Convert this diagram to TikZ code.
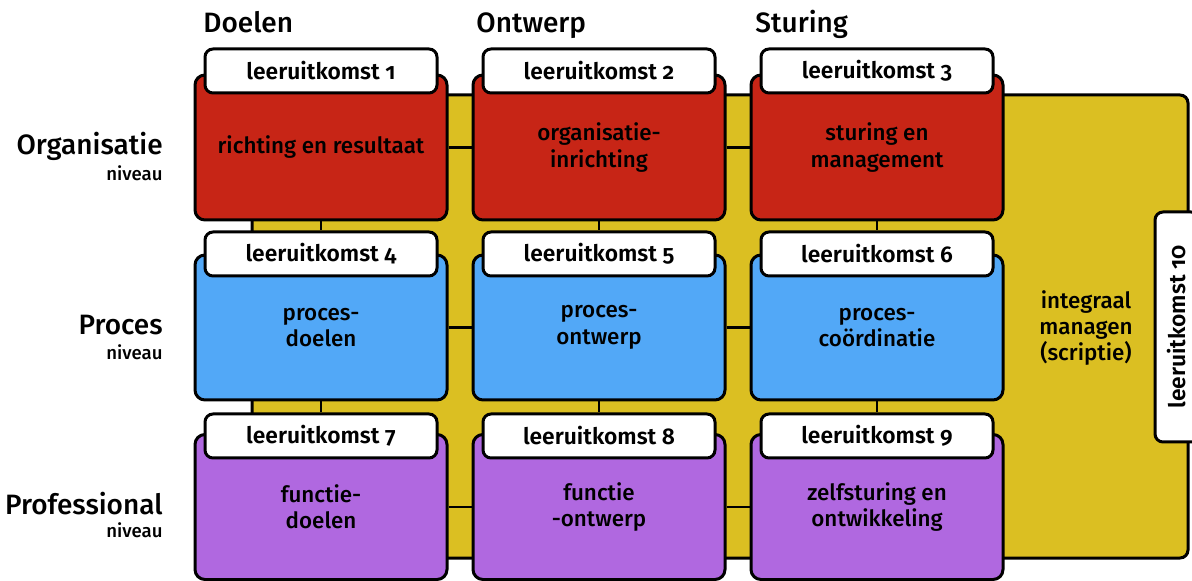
\documentclass[tikz,border=0pt]{standalone}
\usepackage{fontspec}
\setmainfont{Fira Sans}[Numbers=OldStyle, UprightFont=* Medium, BoldFont=* SemiBold]
\usepackage{xcolor}
\usetikzlibrary{positioning}
\definecolor{orgred}{HTML}{C72516}
\definecolor{procblue}{HTML}{52A8F7}
\definecolor{profpurple}{HTML}{B068E0}
\definecolor{panelyellow}{HTML}{DBBF22}

\tikzset{
    outcome/.style={draw=black, line width=1.5pt, rounded corners=5pt, minimum width=126pt, minimum height=72.5pt, align=center, font=\fontsize{11.2}{13.2}\selectfont},
    tabbox/.style={draw=black, fill=white, line width=1.5pt, rounded corners=4pt, minimum width=116pt, minimum height=22pt, font=\bfseries\fontsize{11.4}{13}\selectfont},
    header/.style={inner sep=0pt, font=\fontsize{14}{17}\selectfont},
    level/.style={inner sep=0pt, font=\fontsize{9.3}{11}\selectfont},
    connector/.style={line width=1.3pt},
}

\begin{document}
\begin{tikzpicture}[x=0.5pt, y=-0.5pt]
    \useasboundingbox (0,0) rectangle (1192,581);

    % Yellow panel behind the grid
    \filldraw[fill=panelyellow, draw=black, line width=1.5pt, rounded corners=4pt] (252,95) rectangle (1188,558);
    \node[align=center, font=\fontsize{11.2}{13.2}\selectfont] (integraal) at (1086,328) {integraal\\managen\\(scriptie)};

    % Column headers
    \foreach \i/\x/\name in {1/203/Doelen, 2/476/Ontwerp, 3/755/Sturing}
        \node[header, anchor=base west] (head\i) at (\x,33) {\name};

    % Row labels
    \foreach \i/\y/\yy/\name in {1/155/181/Organisatie, 2/335/360/Proces, 3/515/538/Professional} {
        \node[header, anchor=base east] (row\i) at (163,\y) {\name};
        \node[level, anchor=base east] (niveau\i) at (163,\yy) {niveau};
    }

    % Outcome boxes
    \foreach \n/\x/\y/\c/\txt in {
        1/321/147.5/orgred/{richting en resultaat},
        2/599/147.5/orgred/{organisatie-\\inrichting},
        3/877/147.5/orgred/{sturing en\\management},
        4/321/327.5/procblue/{proces-\\doelen},
        5/599/327.5/procblue/{proces-\\ontwerp},
        6/877/327.5/procblue/{proces-\\coördinatie},
        7/321/507/profpurple/{functie-\\doelen},
        8/599/507/profpurple/{functie\\-ontwerp},
        9/877/507/profpurple/{zelfsturing en\\ontwikkeling}}
        \node[outcome, fill=\c] (box\n) at (\x,\y) {\txt};

    % Grid connectors
    \foreach \a/\b in {1/2, 2/3, 4/5, 5/6, 7/8, 8/9}
        \draw[connector] (box\a.east) -- (box\b.west);

    % Tabs
    \foreach \n/\x/\y in {1/321/71, 2/599/71, 3/877/71, 4/321/254, 5/599/254, 6/877/254, 7/321/436, 8/599/436, 9/877/436}
        \node[tabbox] (tab\n) at (\x,\y) {leeruitkomst \n};

    \foreach \a/\b in {1/4, 2/5, 3/6, 4/7, 5/8, 6/9}
        \draw[connector] (box\a.south) -- (tab\b.north);

    % Side tab
    \node[tabbox, rotate=90, minimum width=115pt] (tab10) at (1177,327) {leeruitkomst 10};
\end{tikzpicture}
\end{document}
